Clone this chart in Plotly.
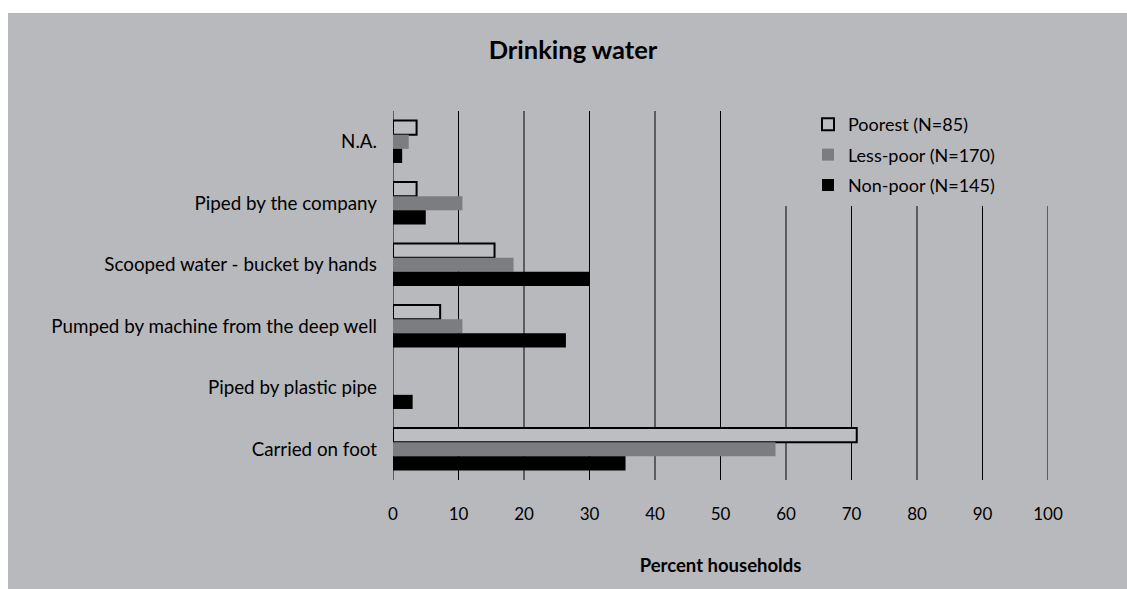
import plotly.graph_objects as go

categories = ["N.A.", "Piped by the company", "Scooped water - bucket by hands",
              "Pumped by machine from the deep well", "Piped by plastic pipe", "Carried on foot"]
poorest = [3.6, 3.6, 15.5, 7.2, 0, 70.8]
less_poor = [2.4, 10.6, 18.4, 10.6, 0, 58.4]
non_poor = [1.4, 5.0, 30.0, 26.4, 3.0, 35.5]
series_names = ["Poorest (N=85)", "Less-poor (N=170)", "Non-poor (N=145)"]
x_ticks = [0, 10, 20, 30, 40, 50, 60, 70, 80, 90, 100]

BG = "#b8b9bd"
FONT = "Lato, 'Open Sans', sans-serif"

fig = go.Figure()
fig.add_trace(go.Bar(y=categories, x=poorest, orientation="h", name=series_names[0],
                     marker=dict(color="#bdbec2",
                                 line=dict(color="black", width=[2 if v > 0 else 0 for v in poorest])),
                     legendgroup="a"))
fig.add_trace(go.Bar(y=categories, x=less_poor, orientation="h", name=series_names[1],
                     marker=dict(color="#7c7d81", line=dict(width=0)), legendgroup="b"))
fig.add_trace(go.Bar(y=categories, x=non_poor, orientation="h", name=series_names[2],
                     marker=dict(color="#000000", line=dict(width=0)), legendgroup="c"))

W, H = 1127, 589
L, R, T, B = 393, 1048, 111, 480


def px_to_paper_x(px):
    return (px - L) / (R - L)


def px_to_paper_y(py):
    return (B - py) / (B - T)


shapes = []
# vertical grid lines (shortened under the legend)
for v in x_ticks:
    top = 1.0 if v <= 50 else px_to_paper_y(206)
    shapes.append(dict(type="line", xref="x", yref="paper", layer="below",
                       x0=v, x1=v, y0=0, y1=top, line=dict(color="black", width=1)))
# white border top and left
shapes.append(dict(type="rect", xref="paper", yref="paper", layer="above",
                   x0=px_to_paper_x(-5), x1=px_to_paper_x(W + 5), y0=px_to_paper_y(13), y1=px_to_paper_y(-5),
                   fillcolor="white", line=dict(width=0)))
shapes.append(dict(type="rect", xref="paper", yref="paper", layer="above",
                   x0=px_to_paper_x(-5), x1=px_to_paper_x(8), y0=px_to_paper_y(H + 5), y1=px_to_paper_y(-5),
                   fillcolor="white", line=dict(width=0)))

fig.update_layout(
    width=W, height=H,
    margin=dict(l=L, r=W - R, t=T, b=H - B, pad=0),
    paper_bgcolor=BG, plot_bgcolor=BG,
    font=dict(family=FONT, size=18, color="black"),
    title=dict(text="<b>Drinking water</b>", x=573 / W, xanchor="center",
               y=1 - 50 / H, yanchor="middle", yref="container",
               font=dict(family=FONT, size=25.5, color="black")),
    barmode="group", bargap=0.31, bargroupgap=0,
    showlegend=True,
    legend=dict(x=px_to_paper_x(808), xanchor="left", y=px_to_paper_y(106), yanchor="top",
                bgcolor="rgba(0,0,0,0)", traceorder="grouped", tracegroupgap=4,
                font=dict(family=FONT, size=18, color="black")),
    shapes=shapes,
    xaxis=dict(range=[0, 100], tickvals=x_ticks, ticktext=[str(v) for v in x_ticks],
               showgrid=False, zeroline=False,
               showline=False, ticks="", ticklabelstandoff=22,
               tickfont=dict(family=FONT, size=17, color="black"),
               title=dict(text="<b>Percent households</b>", standoff=36,
                          font=dict(family=FONT, size=18.5, color="black"))),
    yaxis=dict(autorange="reversed", showgrid=False, zeroline=False, showline=False,
               ticks="", ticklabelstandoff=15,
               tickfont=dict(family=FONT, size=18.8, color="black")),
)

fig.write_html("out.html", config={"displayModeBar": False},
               post_script="document.body.style.margin='0';document.body.style.overflow='hidden';")
